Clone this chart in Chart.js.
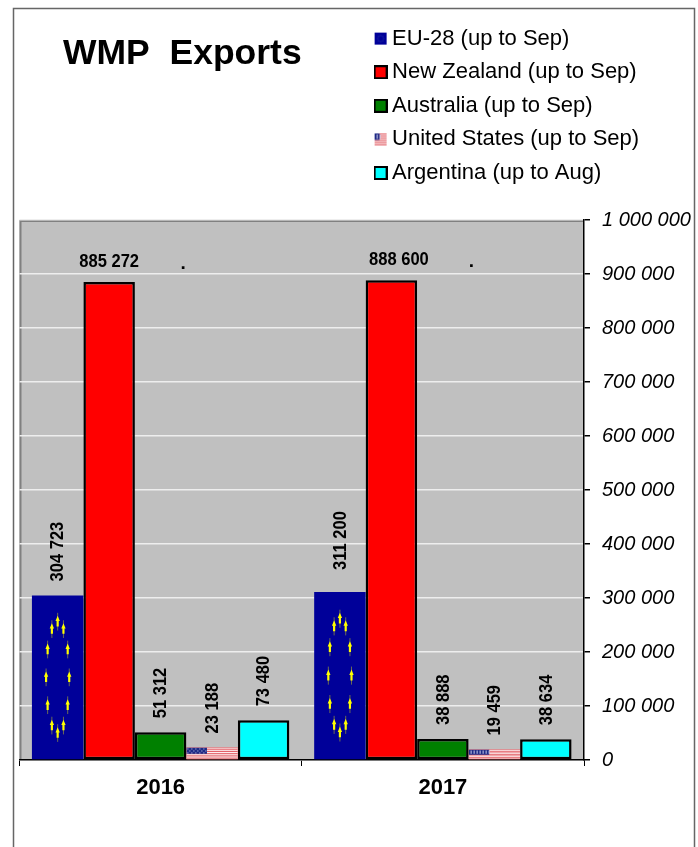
<!DOCTYPE html>
<html><head><meta charset="utf-8">
<script src="https://cdn.jsdelivr.net/npm/chart.js@4"></script>
<style>html,body{margin:0;padding:0;background:#fff;overflow:hidden}canvas{display:block}</style>
</head><body><canvas id="c" width="698" height="847"></canvas>
<script>
const years = ['2016','2017'];
const seriesNames = ['EU-28 (up to Sep)','New Zealand (up to Sep)','Australia (up to Sep)','United States (up to Sep)','Argentina (up to Aug)'];
const eu = [304723,311200];
const newZealand = [885272,888600];
const australia = [51312,38888];
const unitedStates = [23188,19459];
const argentina = [73480,38634];
const yMax = 1000000, yStep = 100000;
const FONT = "'Liberation Sans', Arial, sans-serif";
const fmt = v => String(v).replace(/\B(?=(\d{3})+$)/g,' ');

function drawStars(ctx,x,y,w,h,sw,sh){
  const cx=x+w/2, cy=y+h/2, rx=w*0.225, ry=h*0.34;
  for(let i=0;i<12;i++){
    const a=i*Math.PI/6, sx=cx+rx*Math.sin(a), sy=cy-ry*Math.cos(a);
    ctx.fillStyle='rgba(150,150,60,0.7)';
    ctx.fillRect(sx-0.5,sy-sh*1.5,1,sh*3);
    ctx.fillStyle='#FFFF00';
    ctx.beginPath();
    ctx.moveTo(sx,sy-sh);
    ctx.lineTo(sx+sw,sy-sh*0.1);
    ctx.lineTo(sx+sw*0.5,sy-sh*0.1);
    ctx.lineTo(sx+sw*0.5,sy+sh*0.8);
    ctx.lineTo(sx-sw*0.5,sy+sh*0.8);
    ctx.lineTo(sx-sw*0.5,sy-sh*0.1);
    ctx.lineTo(sx-sw,sy-sh*0.1);
    ctx.closePath();ctx.fill();
  }
}
function drawUS(ctx,x,y,w,h,dotted){
  ctx.save();ctx.beginPath();ctx.rect(x,y,w,h);ctx.clip();
  ctx.fillStyle='#fff';ctx.fillRect(x,y,w,h);
  const n=7, sh=h/13;
  ctx.fillStyle='#E0525A';
  for(let i=0;i<n;i++)ctx.fillRect(x,y+i*2*sh,w,sh);
  const cw=w*0.4,ch=h*0.54;
  ctx.fillStyle='#1E2A86';ctx.fillRect(x,y,cw,ch);
  if(dotted){
    ctx.fillStyle='#C9CCE8';
    for(let i=0;i<cw/2-0.5;i++)for(let j=0;j<ch/2-0.5;j++)
      if((i+j)%2===0)ctx.fillRect(x+1+i*2,y+1+j*2,1,1);
  }else{
    ctx.fillStyle='#C9CCE8';
    for(let i=0;i<cw/3;i++)ctx.fillRect(x+2+i*3,y+1,1,ch-2);
  }
  ctx.restore();
}
function swatch(kind,color){
  const c=document.createElement('canvas');c.width=14;c.height=14;
  const g=c.getContext('2d');
  if(kind==='eu'){g.fillStyle='#000099';g.fillRect(1,1,12,12);g.fillStyle='#3344aa';
    for(let i=0;i<8;i++){const a=i*Math.PI/4;g.fillRect(6.5+3*Math.sin(a),6.5+3*Math.cos(a),1,1);}}
  else if(kind==='us'){drawUS(g,1,1,12,12,false);}
  else{g.fillStyle='#000';g.fillRect(0,0,14,14);g.fillStyle=color;g.fillRect(2,2,10,10);}
  return c;
}
const swatches=[swatch('eu'),swatch('box','#FF0000'),swatch('box','#008000'),swatch('us'),swatch('box','#00FFFF')];

const frame={id:'frame',beforeDraw(ch){
  const {ctx,chartArea:a}=ch;
  ctx.save();
  ctx.strokeStyle='#666666';ctx.lineWidth=1.5;
  ctx.strokeRect(13.5,8.5,681,900);
  ctx.fillStyle='#C0C0C0';ctx.fillRect(a.left,a.top,a.right-a.left,a.bottom-a.top);
  ctx.strokeStyle='#808080';ctx.lineWidth=2;
  ctx.beginPath();ctx.moveTo(a.left+1,a.bottom);ctx.lineTo(a.left+1,a.top+1);ctx.lineTo(a.right,a.top+1);ctx.stroke();
  ctx.restore();
}};
const place={id:'place',afterLayout(ch){
  const l=ch.legend;
  l.left=368.5;l.right=690;l.top=16;l.bottom=200;l.width=321.5;l.height=184;
  const t=ch.titleBlock;
  t.left=63;t.right=320;
}};
const flags={id:'flags',afterDatasetDraw(ch,args){
  const {ctx}=ch;
  if(args.index===0){
    ch.getDatasetMeta(0).data.forEach(b=>{
      const w=b.width,x=b.x-w/2,y=b.y,h=b.base-b.y;
      ctx.save();drawStars(ctx,x,y,w,h,w*0.042,h*0.036);ctx.restore();
    });
  }
  if(args.index===3){
    ch.getDatasetMeta(3).data.forEach((b,i)=>{
      const w=b.width,x=b.x-w/2,y=b.y,h=b.base-b.y;
      drawUS(ctx,x,y,w,h,i===0);
    });
  }
}};
const barLabels={id:'barLabels',afterDatasetsDraw(ch){
  const {ctx}=ch;
  ctx.save();
  ctx.fillStyle='#000';ctx.textBaseline='middle';
  ctx.font='bold 19px '+FONT;
  const sx=0.87;
  ch.data.datasets.forEach((d,i)=>{
    ch.getDatasetMeta(i).data.forEach((b,j)=>{
      const txt=fmt(d.data[j]);
      if(i===1){
        const dx=j===0?0:7.5, y=b.y-20.5;
        ctx.textAlign='center';
        ctx.save();ctx.translate(b.x+dx,y);ctx.scale(sx,1);ctx.fillText(txt,0,0);ctx.restore();
        ctx.fillText('.',b.x+(j===0?74:80),y+2);
      }else{
        const gap=(i===0&&j===1)?22:14;
        ctx.save();
        ctx.translate(b.x+0.5,b.y-gap);
        ctx.rotate(-Math.PI/2);
        ctx.scale(sx,1);
        ctx.textAlign='left';
        ctx.fillText(txt,0,0);
        ctx.restore();
      }
    });
  });
  ctx.restore();
}};

new Chart(document.getElementById('c'),{
  type:'bar',
  data:{labels:years,datasets:[
    {label:seriesNames[0],data:eu,backgroundColor:'#000099',borderWidth:0},
    {label:seriesNames[1],data:newZealand,backgroundColor:'#FF0000',borderColor:'#000',borderWidth:2.5,borderSkipped:false},
    {label:seriesNames[2],data:australia,backgroundColor:'#008000',borderColor:'#000',borderWidth:2.5,borderSkipped:false},
    {label:seriesNames[3],data:unitedStates,backgroundColor:'#E0525A',borderWidth:0},
    {label:seriesNames[4],data:argentina,backgroundColor:'#00FFFF',borderColor:'#000',borderWidth:2.5,borderSkipped:false}
  ]},
  options:{
    responsive:false,animation:false,
    layout:{padding:{left:19.5,top:0,right:0,bottom:0}},
    datasets:{bar:{categoryPercentage:0.912,barPercentage:1}},
    scales:{
      x:{
        afterFit(s){s.height=87;},
        grid:{drawOnChartArea:false,drawTicks:true,tickLength:6,color:'#000',offset:true},
        border:{color:'#000',width:1.5},
        ticks:{color:'#000',font:{family:FONT,size:22,weight:'bold'},padding:9}
      },
      y:{
        position:'right',min:0,max:yMax,
        afterFit(s){s.width=114;},
        grid:{color:'#EEEEEE',lineWidth:1.5,tickColor:'#000',tickLength:6,tickWidth:1.5},
        border:{color:'#000',width:1.5},
        ticks:{stepSize:yStep,color:'#000',padding:12,crossAlign:'near',font:{family:FONT,size:20,style:'italic'},callback:v=>fmt(v)}
      }
    },
    plugins:{
      title:{display:true,text:'WMP  Exports',align:'start',color:'#000',
        font:{family:FONT,size:35.5,weight:'bold',lineHeight:1.2},padding:{top:33,bottom:144.4}},
      legend:{display:true,position:'chartArea',align:'start',
        labels:{usePointStyle:true,pointStyleWidth:1,padding:11.6,color:'#000',font:{family:FONT,size:22},
          generateLabels:ch=>ch.data.datasets.map((d,i)=>({text:d.label,pointStyle:swatches[i],datasetIndex:i,fontColor:'#000',lineWidth:0}))}},
      tooltip:{enabled:false}
    }
  },
  plugins:[frame,place,flags,barLabels]
});
</script></body></html>
